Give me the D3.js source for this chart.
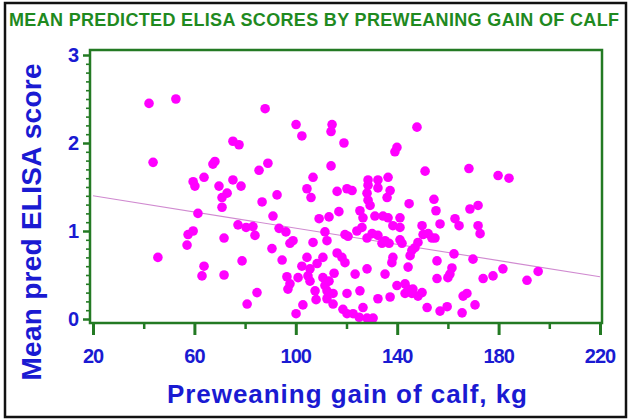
<!DOCTYPE html>
<html>
<head>
<meta charset="utf-8">
<script src="https://cdn.jsdelivr.net/npm/d3@7"></script>
<style>
  html, body { margin: 0; padding: 0; background: #fff; }
  svg { display: block; }
  text { font-family: "Liberation Sans", Arial, sans-serif; font-weight: bold; }
</style>
</head>
<body>
<svg id="chart" width="630" height="420"></svg>
<script>
const titleText = "MEAN PREDICTED ELISA SCORES BY PREWEANING GAIN OF CALF";
const xLabel = "Preweaning gain of calf, kg";
const yLabel = "Mean pred ELISA score";
const xTicks = [20, 60, 100, 140, 180, 220];
const yTicks = [0, 1, 2, 3];

const gain = [
  42.1, 52.7, 87.9, 100.1, 102.4, 114.3, 113.9, 119.0, 43.7, 75.2,
  77.6, 67.3, 68.1, 85.5, 89.0, 113.9, 59.5, 60.2, 63.8, 69.7,
  75.2, 78.4, 106.8, 104.4, 106.0, 116.3, 120.2, 147.8, 139.9, 139.1,
  151.0, 168.3, 179.8, 184.1, 128.5, 132.4, 136.4, 122.2, 72.9, 70.9,
  70.9, 86.7, 92.6, 61.4, 91.0, 109.2, 113.1, 117.0, 77.2, 80.4,
  83.1, 83.9, 93.4, 96.1, 98.9, 97.7, 106.8, 111.5, 112.3, 119.4,
  120.6, 59.5, 57.5, 57.1, 71.7, 45.6, 90.6, 94.6, 78.8, 63.8,
  63.0, 71.7, 104.4, 102.4, 105.6, 110.7, 116.3, 118.2, 119.4, 96.5,
  97.7, 96.9, 100.9, 104.8, 110.7, 113.1, 115.1, 107.6, 108.0, 112.3,
  112.3, 114.7, 118.6, 120.2, 84.7, 80.8, 102.8, 100.1, 120.2, 128.1,
  125.3, 126.5, 128.5, 124.1, 126.1, 128.1, 123.4, 128.1, 108.4, 105.6,
  111.5, 114.7, 125.3, 126.5, 122.6, 128.1, 128.5, 137.2, 136.0, 132.4,
  144.7, 154.5, 155.3, 129.3, 131.2, 134.4, 136.4, 141.1, 138.3, 141.1,
  149.8, 150.2, 156.9, 162.8, 164.4, 168.7, 171.9, 171.9, 172.7, 130.1,
  132.4, 135.2, 136.8, 134.0, 141.1, 141.9, 147.0, 145.8, 145.1, 148.2,
  152.2, 153.7, 154.9, 155.7, 162.4, 169.9, 181.7, 191.2, 195.6, 173.9,
  177.8, 138.3, 137.9, 144.3, 135.2, 161.6, 160.8, 160.0, 155.7, 139.9,
  143.1, 144.3, 146.2, 143.1, 145.8, 149.8, 148.2, 137.2, 132.4, 130.5,
  151.8, 156.9, 159.7, 165.6, 166.0, 167.5, 170.7, 125.0
];
const elisa = [
  2.45, 2.50, 2.39, 2.21, 2.08, 2.21, 2.13, 2.00, 1.78, 2.02,
  1.98, 1.76, 1.79, 1.69, 1.77, 1.74, 1.56, 1.51, 1.61, 1.51,
  1.58, 1.51, 1.61, 1.48, 1.38, 1.45, 1.48, 2.18, 1.95, 1.90,
  1.68, 1.71, 1.63, 1.60, 1.58, 1.58, 1.61, 1.46, 1.43, 1.38,
  1.27, 1.33, 1.41, 1.20, 1.17, 1.14, 1.16, 1.22, 1.07, 1.04,
  1.05, 0.95, 1.03, 0.99, 0.89, 0.86, 0.87, 0.99, 0.89, 0.96,
  0.94, 1.00, 0.96, 0.84, 0.92, 0.70, 0.80, 0.67, 0.66, 0.60,
  0.49, 0.50, 0.70, 0.60, 0.57, 0.70, 0.75, 0.70, 0.64, 0.48,
  0.40, 0.34, 0.47, 0.49, 0.47, 0.43, 0.52, 0.32, 0.22, 0.32,
  0.23, 0.17, 0.11, 0.29, 0.30, 0.17, 0.16, 0.06, 0.06, 1.43,
  1.23, 1.15, 1.35, 1.00, 1.04, 0.92, 0.51, 0.57, 0.63, 0.43,
  0.38, 0.29, 0.32, 0.13, 0.06, 0.01, 1.52, 1.46, 1.38, 1.49,
  1.31, 1.36, 1.23, 1.29, 1.17, 1.17, 1.15, 1.15, 1.06, 1.04,
  1.06, 0.96, 1.08, 1.14, 1.06, 1.25, 1.29, 1.06, 0.97, 0.97,
  0.95, 0.89, 0.86, 0.86, 0.90, 0.86, 0.81, 0.78, 0.72, 0.87,
  0.97, 0.92, 0.92, 0.66, 0.74, 0.68, 0.57, 0.44, 0.54, 0.46,
  0.49, 0.70, 0.64, 0.59, 0.51, 0.58, 0.51, 0.47, 0.46, 0.38,
  0.40, 0.34, 0.34, 0.29, 0.29, 0.30, 0.26, 0.25, 0.23, 0.01,
  0.13, 0.09, 0.14, 0.07, 0.26, 0.29, 0.16, 0.02
];
// fitted regression line end points
const fitX = [20, 220];
const fitY = [1.40, 0.48];

const GREEN = "#1f8a1f";
const FRAME = "#237a23";
const BLUE = "#1a1ad2";
const MAGENTA = "#ff00ff";

const svg = d3.select("#chart");
const frame = { left: 90, right: 602, top: 50, bottom: 323 };

const x = d3.scaleLinear().domain([20, 220]).range([93, 600]);
const y = d3.scaleLinear().domain([0, 3]).range([319, 55]);

// outer border
svg.append("rect").attr("x", 5).attr("y", 3).attr("width", 621).attr("height", 414)
  .attr("fill", "#fff").attr("stroke", "#111").attr("stroke-width", 2.5);

// title
svg.append("text").attr("x", 314).attr("y", 26)
  .attr("text-anchor", "middle")
  .attr("font-size", 18).attr("fill", GREEN)
  .attr("textLength", 610).attr("lengthAdjust", "spacing")
  .text(titleText);

// regression line (behind points)
svg.append("line")
  .attr("x1", x(fitX[0])).attr("y1", y(fitY[0]))
  .attr("x2", x(fitX[1])).attr("y2", y(fitY[1]))
  .attr("stroke", "#d08ad0").attr("stroke-width", 1.1);

// points
svg.append("g").selectAll("circle").data(gain.map((g, i) => [g, elisa[i]]))
  .join("circle")
  .attr("cx", d => x(d[0])).attr("cy", d => y(d[1]))
  .attr("r", 4.8).attr("fill", MAGENTA);

// frame
svg.append("rect").attr("x", frame.left).attr("y", frame.top)
  .attr("width", frame.right - frame.left).attr("height", frame.bottom - frame.top)
  .attr("fill", "none").attr("stroke", FRAME).attr("stroke-width", 2.5);

// x axis ticks
const xMinor = d3.range(40, 220, 40);
const xAxisMajor = d3.axisBottom(x).tickValues(xTicks).tickSize(12).tickFormat("");
const gxM = svg.append("g").attr("transform", `translate(0,${frame.bottom})`).call(xAxisMajor);
const xAxisMinor = d3.axisBottom(x).tickValues(xMinor).tickSize(6).tickFormat("");
const gxm = svg.append("g").attr("transform", `translate(0,${frame.bottom})`).call(xAxisMinor);
[gxM, gxm].forEach(g => {
  g.select(".domain").remove();
  g.selectAll("line").attr("stroke", FRAME).attr("stroke-width", 2.5);
});
gxM.selectAll("line").attr("stroke-width", 3);
svg.append("g").selectAll("text").data(xTicks).join("text")
  .attr("x", d => x(d)).attr("y", 363)
  .attr("text-anchor", "middle").attr("font-size", 20).attr("fill", BLUE)
  .attr("letter-spacing", -1)
  .text(d => d);

// y axis ticks
const yMinor = d3.range(0, 3.001, 0.1).filter(v => Math.abs(v - Math.round(v)) > 1e-6);
const yAxisMajor = d3.axisLeft(y).tickValues(yTicks).tickSize(7).tickFormat("");
const gyM = svg.append("g").attr("transform", `translate(${frame.left},0)`).call(yAxisMajor);
const yAxisMinor = d3.axisLeft(y).tickValues(yMinor).tickSize(4).tickFormat("");
const gym = svg.append("g").attr("transform", `translate(${frame.left},0)`).call(yAxisMinor);
[gyM, gym].forEach(g => {
  g.select(".domain").remove();
  g.selectAll("line").attr("stroke", FRAME).attr("stroke-width", 1.6);
});
gyM.selectAll("line").attr("stroke-width", 2.5);
svg.append("g").selectAll("text").data(yTicks).join("text")
  .attr("x", 79).attr("y", d => y(d)).attr("dy", "0.36em")
  .attr("text-anchor", "end").attr("font-size", 20).attr("fill", BLUE)
  .text(d => d);

// axis labels
svg.append("text").attr("x", 347).attr("y", 403)
  .attr("text-anchor", "middle").attr("font-size", 26).attr("fill", BLUE)
  .attr("textLength", 360).attr("lengthAdjust", "spacing")
  .text(xLabel);
svg.append("text").attr("transform", "translate(41,222) rotate(-90)")
  .attr("text-anchor", "middle").attr("font-size", 28).attr("fill", BLUE)
  .attr("textLength", 317).attr("lengthAdjust", "spacing")
  .text(yLabel);
</script>
</body>
</html>
